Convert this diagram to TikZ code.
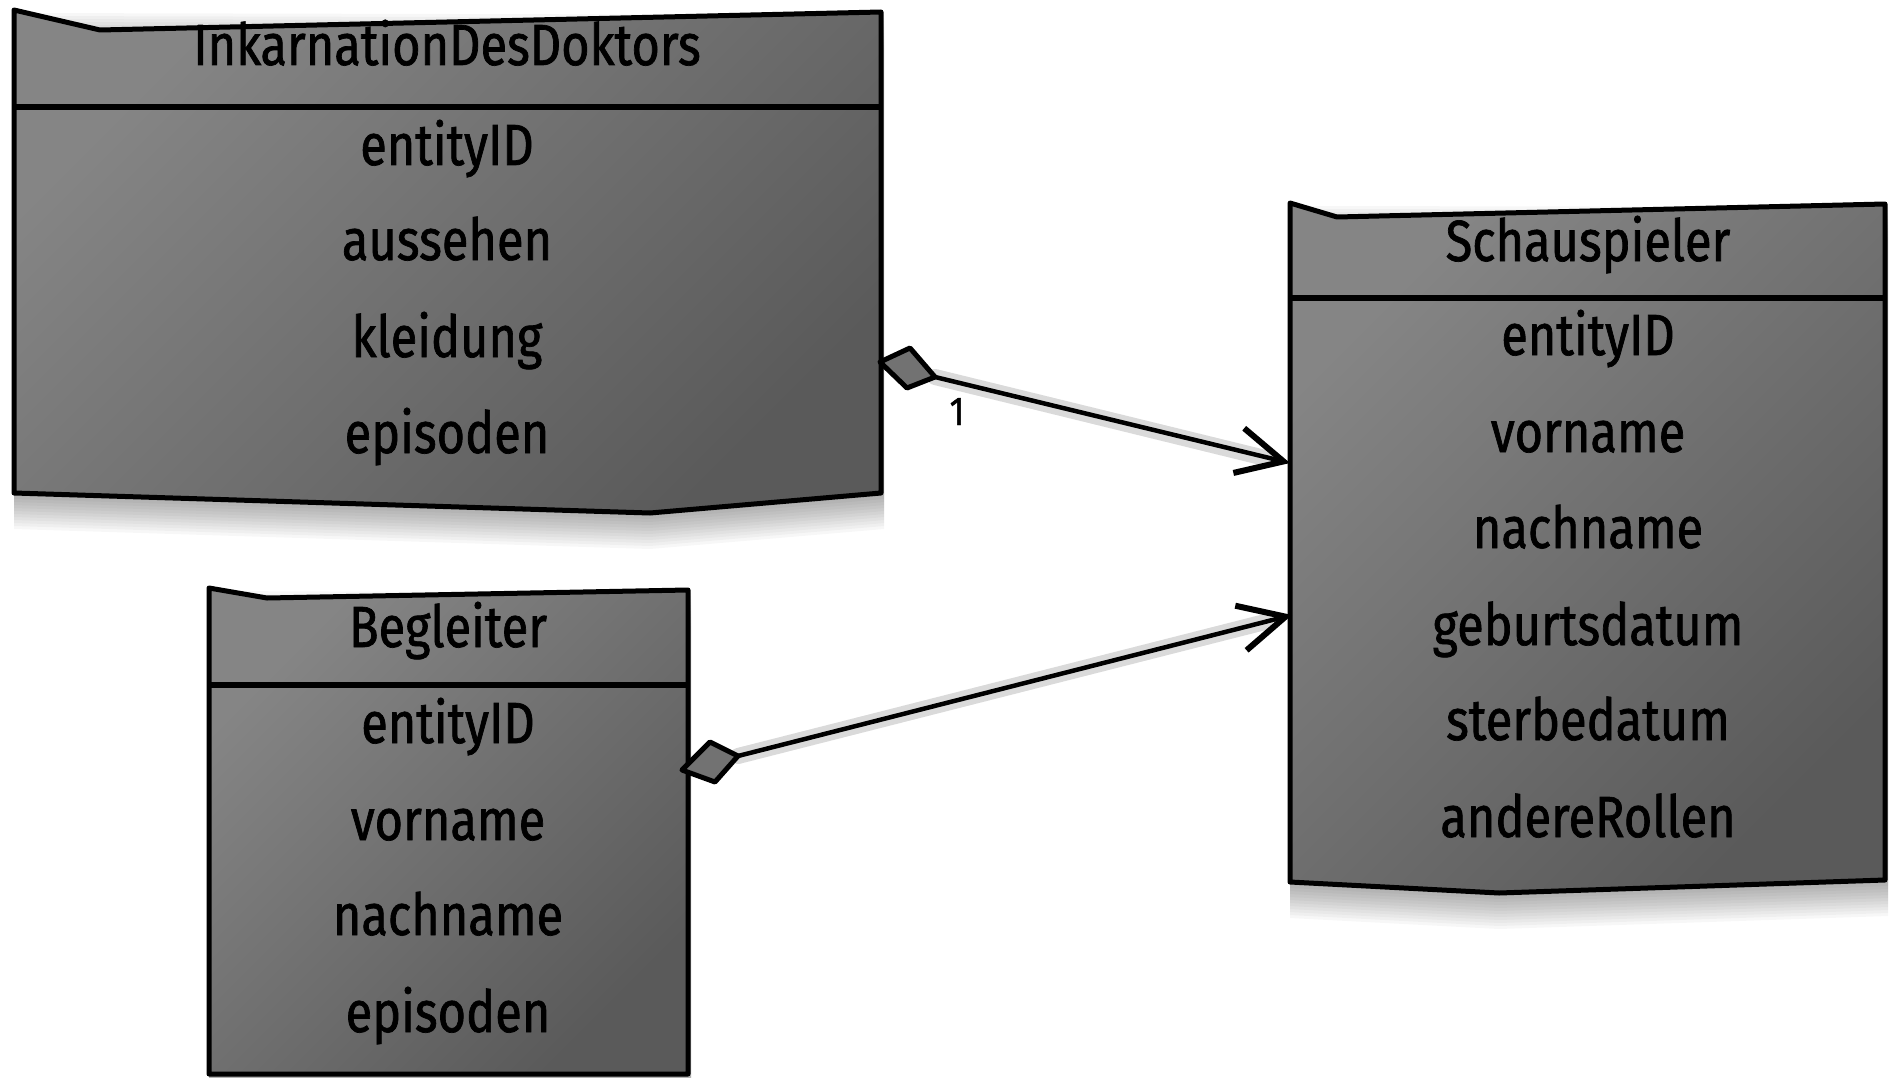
\documentclass[tikz,border=0pt]{standalone}
\usepackage{fontspec}
\setmainfont[FakeStretch=0.84, FakeBold=1.2]{Fira Sans}
\usetikzlibrary{arrows.meta,calc}
\definecolor{boxlight}{HTML}{858585}
\definecolor{boxdark}{HTML}{5A5A5A}
\definecolor{diafill}{HTML}{727272}
\begin{document}
\begin{tikzpicture}[x=1pt,y=-1pt,
  boxline/.style={draw=black, line width=5pt, line join=round},
  boxfill/.style={top color=boxlight, bottom color=boxdark, shading angle=45},
  divline/.style={draw=black, line width=6pt},
  fieldtext/.style={anchor=base, inner sep=0pt, text=black, font=\fontsize{58}{60}\selectfont},
  labeltext/.style={anchor=base, inner sep=0pt, text=black, font=\fontsize{40}{42}\selectfont},
  conn/.style={draw=black, line width=4.5pt, -{Straight Barb[length=46pt,width=46pt,line width=6pt]}},
  diamondline/.style={draw=black, line width=5pt, fill=diafill, line join=round},
  shadowfill/.style={fill=black, opacity=0.03},
  shadowline/.style={draw=black, opacity=0.05, line width=16pt, line cap=round}
]
\useasboundingbox (0,0) rectangle (1892,1078);

% ---------- shadows of boxes ----------
\foreach \s in {3,6,...,36}{
  \fill[shadowfill, yshift=-\s pt] (14,10) -- (884,12) -- (884,493) -- (650,513) -- (14,493) -- cycle;
  \fill[shadowfill, yshift=-\s pt] (1290,203) -- (1888,204) -- (1888,880) -- (1499,893) -- (1290,882) -- cycle;
  \fill[shadowfill, yshift=-\s pt] (209,588) -- (691,590) -- (691,1074) -- (209,1074) -- cycle;
}

% ---------- named anchor points ----------
\coordinate (d1l) at (880,362);
\coordinate (d1t) at (910,348);
\coordinate (d1r) at (935,377);
\coordinate (d1b) at (907,388);
\coordinate (s1) at (1290,463);
\coordinate (s1s) at (1265,458);
\coordinate (d2l) at (682,770);
\coordinate (d2t) at (710,742);
\coordinate (d2r) at (738,756);
\coordinate (d2b) at (715,782);
\coordinate (s2) at (1292,615);
\coordinate (s2s) at (1265,622);

% ---------- connector shadows ----------
\foreach \s in {5,10,15}{
  \draw[shadowline, yshift=-\s pt] (d1r) -- (s1s);
  \draw[shadowline, yshift=-\s pt] (d2r) -- (s2s);
}

% ---------- Box 1: InkarnationDesDoktors ----------
\path[boxfill] (14,10) -- (100,30) -- (881,12) -- (881,493) -- (650,513) -- (14,493) -- cycle;
\draw[boxline] (14,10) -- (100,30) -- (881,12) -- (881,493) -- (650,513) -- (14,493) -- cycle;
\draw[divline] (14,107) -- (881,107);
\node[fieldtext] (t1) at (447,65) {InkarnationDesDoktors};
\node[fieldtext] (a1) at (447,165) {entityID};
\node[fieldtext] (a2) at (447,260) {aussehen};
\node[fieldtext] (a3) at (447,357) {kleidung};
\node[fieldtext] (a4) at (447,453) {episoden};

% ---------- Box 2: Begleiter ----------
\path[boxfill] (209,588) -- (267,598) -- (688,590) -- (688,1074) -- (209,1074) -- cycle;
\draw[boxline] (209,588) -- (267,598) -- (688,590) -- (688,1074) -- (209,1074) -- cycle;
\draw[divline] (209,685) -- (688,685);
\node[fieldtext] (t2) at (448,647) {Begleiter};
\node[fieldtext] (b1) at (448,743) {entityID};
\node[fieldtext] (b2) at (448,840) {vorname};
\node[fieldtext] (b3) at (448,935) {nachname};
\node[fieldtext] (b4) at (448,1032) {episoden};

% ---------- Box 3: Schauspieler ----------
\path[boxfill] (1290,203) -- (1337,217) -- (1885,204) -- (1885,880) -- (1499,893) -- (1290,882) -- cycle;
\draw[boxline] (1290,203) -- (1337,217) -- (1885,204) -- (1885,880) -- (1499,893) -- (1290,882) -- cycle;
\draw[divline] (1290,298) -- (1885,298);
\node[fieldtext] (t3) at (1588,261) {Schauspieler};
\node[fieldtext] (c1) at (1588,355) {entityID};
\node[fieldtext] (c2) at (1588,452) {vorname};
\node[fieldtext] (c3) at (1588,548) {nachname};
\node[fieldtext] (c4) at (1588,645) {geburtsdatum};
\node[fieldtext] (c5) at (1588,740) {sterbedatum};
\node[fieldtext] (c6) at (1588,837) {andereRollen};

% ---------- connectors ----------
\draw[diamondline] (d1l) -- (d1t) -- (d1r) -- (d1b) -- cycle;
\draw[conn] (d1r) -- (s1);
\node[labeltext] (m1) at (957,425) {1};

\draw[diamondline] (d2l) -- (d2t) -- (d2r) -- (d2b) -- cycle;
\draw[conn] (d2r) -- (s2);
\end{tikzpicture}
\end{document}
